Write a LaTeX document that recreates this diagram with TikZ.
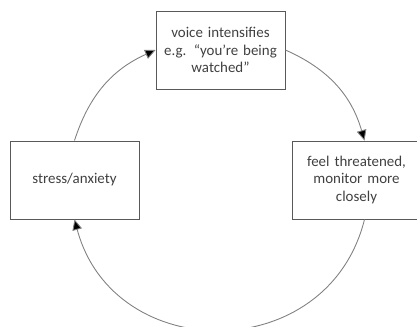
\documentclass[tikz,border=0pt]{standalone}
\usepackage{fontspec}
\setmainfont{Carlito}
\usetikzlibrary{arrows.meta}
\tikzset{
  stagebox/.style={draw=black!65,line width=0.5pt,minimum width=2.58cm,minimum height=1.56cm,
    align=center,text width=2.5cm,inner sep=0pt,text=black!75,font=\fontsize{8.5}{10}\selectfont},
  cycleline/.style={draw=black!50,line width=0.5pt,-{Triangle[length=6pt,width=5.5pt,fill=black]}}
}
\begin{document}
\begin{tikzpicture}
	\useasboundingbox (0,0) rectangle (8.34,-6.52);
	\node[stagebox] (voice) at (4.41,-1.0) {voice intensifies\\e.g. “you’re being\\watched”};
	\node[stagebox] (stress) at (1.49,-3.6) {stress/anxiety};
	\node[stagebox] (threat) at (7.13,-3.6) {feel threatened,\\monitor more\\closely};
	\draw[cycleline] (stress.north) to[bend left=24] (voice.west);
	\draw[cycleline] (voice.east) to[bend left=25] ([xshift=0.16cm]threat.north);
	\draw[cycleline] ([xshift=0.16cm]threat.south) to[out=-104,in=-75,looseness=1.34] (stress.south);
\end{tikzpicture}
\end{document}
